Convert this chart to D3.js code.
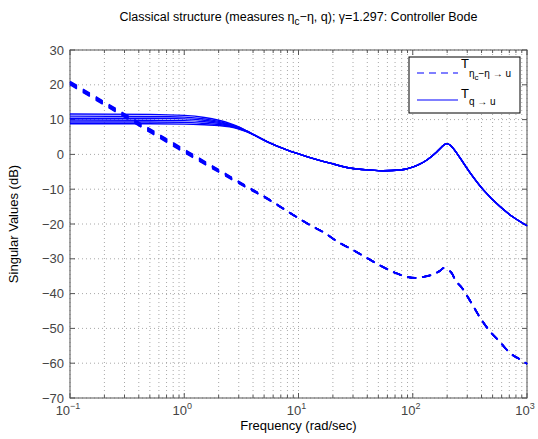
<!DOCTYPE html>
<html>
<head>
<meta charset="utf-8">
<script src="https://cdn.jsdelivr.net/npm/d3@7"></script>
<style>
body { margin: 0; background: #fff; }
text { font-family: "Liberation Sans", Arial, sans-serif; }
</style>
</head>
<body>
<div id="my_dataviz"></div>
<script>
// low-frequency part of the q -> u bundle (six lines), then the common tail
var solidLowFreq = [0.1, 0.5, 1, 1.5, 2, 2.5, 3, 3.5, 4.2];
var solid1 = [11.6, 11.5, 11.2, 10.6, 9.8, 8.9, 7.9, 6.8, 5.4];
var solid2 = [11.0, 10.9, 10.7, 10.2, 9.5, 8.7, 7.8, 6.75, 5.4];
var solid3 = [10.4, 10.4, 10.2, 9.8, 9.2, 8.5, 7.65, 6.7, 5.4];
var solid4 = [9.9, 9.8, 9.7, 9.4, 8.9, 8.3, 7.5, 6.65, 5.4];
var solid5 = [9.3, 9.3, 9.2, 8.9, 8.6, 8.1, 7.4, 6.6, 5.4];
var solid6 = [8.8, 8.8, 8.7, 8.5, 8.3, 7.9, 7.3, 6.55, 5.4];
var solidTailFreq = [5.6, 7.9, 12, 18.9, 28, 42, 55, 78, 101, 115, 133, 162, 180, 198, 212, 225, 247, 318, 415, 580, 755, 1000];
var solidTail = [3.3, 1.3, -0.7, -2.5, -3.9, -4.5, -4.7, -4.5, -3.6, -2.8, -1.6, 0.7, 2.2, 3.1, 2.7, 1.8, 0.0, -5.3, -10.2, -15.0, -18.0, -20.5];

// eta_c - eta -> u bundle (six lines), then the common tail
var dashLowFreq = [0.1, 0.3, 1, 3, 5.6];
var dash1 = [20.95, 11.65, 1.45, -7.8, -13.0];
var dash2 = [20.77, 11.47, 1.27, -7.9, -13.05];
var dash3 = [20.59, 11.29, 1.09, -8.0, -13.1];
var dash4 = [20.41, 11.11, 0.91, -8.1, -13.15];
var dash5 = [20.23, 10.93, 0.73, -8.2, -13.2];
var dash6 = [20.05, 10.75, 0.55, -8.3, -13.25];
var dashTailFreq = [9, 12.6, 17, 22, 29, 38, 51, 70, 89, 105, 123, 147, 172, 186, 200, 219, 236, 270, 330, 390, 470, 580, 700, 910, 1000];
var dashTail = [-17.4, -20.3, -22.6, -25.1, -27.2, -29.4, -31.8, -34.0, -35.2, -35.5, -35.2, -34.6, -33.5, -32.7, -33.0, -34.1, -36.1, -38.4, -43.0, -47.0, -50.7, -53.9, -56.9, -59.3, -60.2];

var yTicks = [-70, -60, -50, -40, -30, -20, -10, 0, 10, 20, 30];
var xDecades = [-1, 0, 1, 2, 3];

var margin = {top: 50, right: 11, bottom: 41, left: 70},
width = 538 - margin.left - margin.right,
height = 439 - margin.top - margin.bottom;

var svg = d3.select("#my_dataviz")
.append("svg")
.attr("width", 538)
.attr("height", 439)
.append("g")
.attr("transform", "translate(" + margin.left + "," + margin.top + ")");

var x = d3.scaleLog().domain([0.1, 1000]).range([0, width]);
var y = d3.scaleLinear().domain([-70, 30]).range([height, 0]);

var minorX = [];
[0.1, 1, 10, 100].forEach(function(d) {
  for (var k = 1; k <= 9; k++) minorX.push(d * k);
});
minorX.push(1000);

// grid
svg.selectAll(".vgrid").data(minorX).enter().append("line")
  .attr("x1", function(d) { return x(d); }).attr("x2", function(d) { return x(d); })
  .attr("y1", 0).attr("y2", height)
  .attr("stroke", "#a8a8a8").attr("stroke-width", 1)
  .attr("stroke-dasharray", "1,3");
svg.selectAll(".hgrid").data(yTicks).enter().append("line")
  .attr("x1", 0).attr("x2", width)
  .attr("y1", function(d) { return y(d); }).attr("y2", function(d) { return y(d); })
  .attr("stroke", "#a8a8a8").attr("stroke-width", 1)
  .attr("stroke-dasharray", "1,3");

// ticks (inward, all four sides)
var tickCol = "#555";
minorX.forEach(function(d) {
  var major = Math.abs(Math.log10(d) - Math.round(Math.log10(d))) < 1e-9;
  var len = major ? 5 : 3;
  svg.append("line").attr("x1", x(d)).attr("x2", x(d)).attr("y1", height).attr("y2", height - len).attr("stroke", tickCol);
  svg.append("line").attr("x1", x(d)).attr("x2", x(d)).attr("y1", 0).attr("y2", len).attr("stroke", tickCol);
});
yTicks.forEach(function(d) {
  svg.append("line").attr("x1", 0).attr("x2", 5).attr("y1", y(d)).attr("y2", y(d)).attr("stroke", tickCol);
  svg.append("line").attr("x1", width).attr("x2", width - 5).attr("y1", y(d)).attr("y2", y(d)).attr("stroke", tickCol);
});

// tick labels
svg.selectAll(".ylab").data(yTicks).enter().append("text")
  .attr("x", -6).attr("y", function(d) { return y(d) + 4.5; })
  .attr("text-anchor", "end").attr("font-size", 13).attr("fill", "#444")
  .text(function(d) { return d < 0 ? "\u2212" + Math.abs(d) : d; });

xDecades.forEach(function(e) {
  var t = svg.append("text")
    .attr("x", x(Math.pow(10, e)) - 2).attr("y", height + 17)
    .attr("text-anchor", "middle").attr("font-size", 13).attr("fill", "#444");
  t.append("tspan").text("10");
  t.append("tspan").attr("dy", -6).attr("font-size", 9)
    .text(e < 0 ? "\u2212" + Math.abs(e) : e);
});

// box
svg.append("rect").attr("x", 0).attr("y", 0).attr("width", width).attr("height", height)
  .attr("fill", "none").attr("stroke", "#555").attr("stroke-width", 1);

// curves
var line = d3.line()
  .x(function(d) { return x(d[0]); })
  .y(function(d) { return y(d[1]); })
  .curve(d3.curveMonotoneX);

function build(lowF, lowV, tailF, tailV) {
  var pts = lowF.map(function(f, i) { return [f, lowV[i]]; });
  return pts.concat(tailF.map(function(f, i) { return [f, tailV[i]]; }));
}

var solidSets = [solid1, solid2, solid3, solid4, solid5, solid6];
var dashSets = [dash1, dash2, dash3, dash4, dash5, dash6];

var plot = svg.append("g");
dashSets.forEach(function(v) {
  plot.append("path")
    .attr("d", line(build(dashLowFreq, v, dashTailFreq, dashTail)))
    .attr("fill", "none").attr("stroke", "#0000ff").attr("stroke-width", 1.7)
    .attr("stroke-dasharray", "8,7");
});
solidSets.forEach(function(v) {
  plot.append("path")
    .attr("d", line(build(solidLowFreq, v, solidTailFreq, solidTail)))
    .attr("fill", "none").attr("stroke", "#0000ff").attr("stroke-width", 1.4);
});

// legend
var lg = svg.append("g").attr("transform", "translate(" + (409 - margin.left) + "," + (57 - margin.top) + ")");
lg.append("rect").attr("width", 111).attr("height", 56)
  .attr("fill", "#fff").attr("stroke", "#000").attr("stroke-width", 1);
lg.append("line").attr("x1", 8).attr("x2", 49).attr("y1", 16).attr("y2", 16)
  .attr("stroke", "#0000ff").attr("stroke-width", 1.2).attr("stroke-dasharray", "7,5");
lg.append("line").attr("x1", 8).attr("x2", 49).attr("y1", 43).attr("y2", 43)
  .attr("stroke", "#0000ff").attr("stroke-width", 1.2);

var l1 = lg.append("text").attr("x", 52).attr("y", 11).attr("font-size", 13).attr("fill", "#000");
l1.append("tspan").text("T");
l1.append("tspan").attr("dy", 9).attr("font-size", 10).text("\u03b7");
l1.append("tspan").attr("dy", 3).attr("font-size", 8).text("c");
l1.append("tspan").attr("dy", -3).attr("font-size", 10).text("\u2212\u03b7 \u2192 u");

var l2 = lg.append("text").attr("x", 52).attr("y", 41).attr("font-size", 13).attr("fill", "#000");
l2.append("tspan").text("T");
l2.append("tspan").attr("dy", 7).attr("font-size", 10).text("q \u2192 u");

// title and axis labels
var title = svg.append("text").attr("x", width / 2).attr("y", -29)
  .attr("text-anchor", "middle").attr("font-size", 12.5).attr("fill", "#000");
title.append("tspan").text("Classical structure (measures \u03b7");
title.append("tspan").attr("dy", 4).attr("font-size", 10).text("c");
title.append("tspan").attr("dy", -4).text("\u2212\u03b7, q); \u03b3=1.297: Controller Bode");

svg.append("text").attr("x", width / 2).attr("y", height + 32)
  .attr("text-anchor", "middle").attr("font-size", 13).attr("fill", "#000")
  .text("Frequency (rad/sec)");

svg.append("text")
  .attr("transform", "translate(" + (-52) + "," + (height / 2) + ") rotate(-90)")
  .attr("text-anchor", "middle").attr("font-size", 13).attr("fill", "#000")
  .text("Singular Values (dB)");
</script>
</body>
</html>
